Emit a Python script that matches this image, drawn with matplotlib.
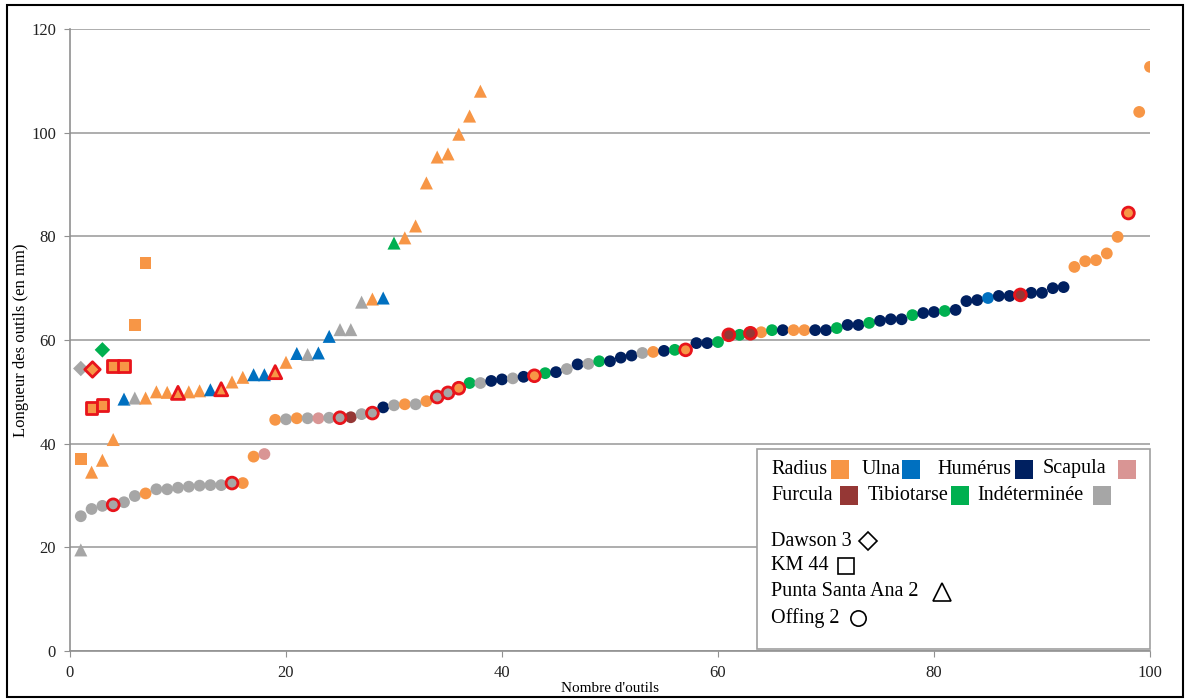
import matplotlib.pyplot as plt
from matplotlib.patches import Rectangle
import numpy as np

plt.rcParams['font.family'] = ['Liberation Serif', 'DejaVu Serif']

# element colours
colors = {
    'R': '#F79646',  # Radius
    'U': '#0070C0',  # Ulna
    'H': '#002060',  # Humérus
    'S': '#D99594',  # Scapula
    'F': '#953735',  # Furcula
    'T': '#00B050',  # Tibiotarse
    'I': '#A6A6A6',  # Indéterminée
}
legend_names = [('Radius', 'R'), ('Ulna', 'U'), ('Humérus', 'H'), ('Scapula', 'S'),
                ('Furcula', 'F'), ('Tibiotarse', 'T'), ('Indéterminée', 'I')]

# Dawson 3 (diamonds)
dawson_len = [54.5, 54.5, 58.1]
dawson_el = ['I', 'R', 'T']
dawson_red = [0, 1, 0]

# KM 44 (squares)
km_len = [37.0, 46.9, 47.5, 55.0, 55.0, 62.9, 74.9]
km_el = ['R'] * 7
km_red = [0, 1, 1, 1, 1, 0, 0]

# Punta Santa Ana 2 (triangles)
psa_len = [19.5, 34.5, 36.8, 40.8, 48.6, 48.8, 48.8, 50.0, 49.9, 49.8,
           50.0, 50.2, 50.4, 50.5, 51.9, 52.8, 53.3, 53.3, 53.8, 55.7,
           57.4, 57.2, 57.5, 60.7, 62.0, 62.0, 67.3, 67.9, 68.1, 78.7,
           79.7, 82.0, 90.3, 95.3, 95.9, 99.7, 103.2, 108.0]
psa_el = list('IRRRUIRRRRRRURRRUURRUIUUIIIRUTRRRRRRRR')
psa_red = [0] * 38
for i in (10, 14, 19):
    psa_red[i - 1] = 1

# Offing 2 (circles)
off_len = [26.0, 27.4, 28.0, 28.2, 28.7, 29.9, 30.4, 31.2, 31.2, 31.5,
           31.7, 31.9, 32.0, 32.0, 32.4, 32.4, 37.5, 38.0, 44.6, 44.7,
           44.9, 44.9, 44.9, 45.0, 45.0, 45.1, 45.7, 45.9, 47.0, 47.4,
           47.6, 47.6, 48.2, 49.0, 49.8, 50.7, 51.7, 51.7, 52.1, 52.4,
           52.6, 52.9, 53.1, 53.6, 53.8, 54.4, 55.3, 55.4, 55.9, 55.9,
           56.6, 57.0, 57.5, 57.7, 57.9, 58.1, 58.1, 59.4, 59.4, 59.6,
           61.0, 61.0, 61.3, 61.5, 61.9, 61.9, 61.9, 61.9, 61.9, 61.9,
           62.3, 62.9, 62.9, 63.3, 63.7, 64.0, 64.0, 64.8, 65.2, 65.4,
           65.6, 65.8, 67.5, 67.7, 68.1, 68.5, 68.5, 68.7, 69.1, 69.1,
           70.0, 70.2, 74.1, 75.2, 75.4, 76.7, 79.9, 84.5, 104.0, 112.7]
off_el = list('IIIIIIRIIIIIIIIRRSRIRISIIFIIHIRIRIIRTIHHIHRTHIHITHHHIRHTRHHT'
              'FTFRTHRRHHTHHTHHHTHHTHHHUHHFHHHHRRRRRRRR')
off_red = [0] * 100
for i in (4, 15, 25, 28, 34, 35, 36, 43, 57, 61, 63, 88, 98):
    off_red[i - 1] = 1

sites = [
    (dawson_len, dawson_el, dawson_red, 'D', 62),
    (km_len, km_el, km_red, 's', 72),
    (psa_len, psa_el, psa_red, '^', 88),
    (off_len, off_el, off_red, 'o', 72),
]

fig = plt.figure(figsize=(11.89, 7), dpi=100)
ax = fig.add_axes([70 / 1189, 49 / 700, 1080 / 1189, 622 / 700])

for lens, els, reds, mk, size in sites:
    x = np.arange(1, len(lens) + 1)
    y = np.array(lens)
    c_arr = np.array([colors[e] for e in els])
    red = np.array(reds, dtype=bool)
    ax.scatter(x[~red], y[~red], c=c_arr[~red], marker=mk, s=size,
               edgecolors='none', zorder=3)
    ax.scatter(x[red], y[red], c=c_arr[red], marker=mk, s=size,
               edgecolors='#E8141B', linewidths=2, zorder=4)

ax.set_xlim(0, 100)
ax.set_ylim(0, 120)
ax.set_yticks(range(0, 121, 20))
ax.set_xticks(range(0, 101, 20))
ax.yaxis.grid(True, color='#A0A0A0', linewidth=1.2, zorder=0)
ax.set_axisbelow(True)
for s in ('top', 'right'):
    ax.spines[s].set_visible(False)
for s in ('left', 'bottom'):
    ax.spines[s].set_color('#909090')
    ax.spines[s].set_linewidth(1.2)
ax.tick_params(colors='#909090', labelcolor='#222222', labelsize=12, length=4, pad=6)
ax.set_ylabel('Longueur des outils (en mm)', fontsize=12)
ax.yaxis.set_label_coords(-0.038, 0.5)
ax.set_xlabel("Nombre d'outils", fontsize=11, labelpad=1)


def fx(px):
    return px / 1189


def fy(py):
    return 1 - py / 700


# legend box
fig.patches.append(Rectangle((fx(757), fy(649)), (1150 - 757) / 1189, (649 - 449) / 700,
                             transform=fig.transFigure, facecolor='white',
                             edgecolor='#A0A0A0', linewidth=1.2, zorder=5))
rows = [
    [(771, 'Radius', 831), (862, 'Ulna', 902), (937, 'Humérus', 1015), (1043, 'Scapula', 1118)],
    [(771, 'Furcula', 840), (868, 'Tibiotarse', 951), (977, 'Indéterminée', 1093)],
]
names = iter(legend_names)
for r, row in enumerate(rows):
    ty = 469 + r * 26
    for tx, label, px in row:
        code = next(names)[1]
        fig.text(fx(tx), fy(ty), label, fontsize=14.5, va='center', ha='left', zorder=6)
        fig.patches.append(Rectangle((fx(px), fy(ty + 10)), 18 / 1189, 19 / 700,
                                     transform=fig.transFigure, facecolor=colors[code],
                                     edgecolor='none', zorder=6))

site_rows = [('Dawson 3', 541, 868, 'D', 9), ('KM 44', 566, 846, 's', 12),
             ('Punta Santa Ana 2', 592, 942, '^', 13), ('Offing 2', 618, 858, 'o', 11)]
for label, ty, mx, mk, ms in site_rows:
    fig.text(fx(771), fy(ty), label, fontsize=14.5, va='center', ha='left', zorder=6)
    fig.add_artist(plt.Line2D([fx(mx)], [fy(ty)], marker=mk, markersize=ms,
                              markerfacecolor='white', markeredgecolor='black',
                              markeredgewidth=1.2, transform=fig.transFigure, zorder=7))

# frame around whole figure
fig.patches.append(Rectangle((fx(7), fy(697)), 1176 / 1189, 692 / 700,
                             transform=fig.transFigure, fill=False,
                             edgecolor='black', linewidth=1.5, zorder=10))

fig.savefig('out.png', dpi=100)
